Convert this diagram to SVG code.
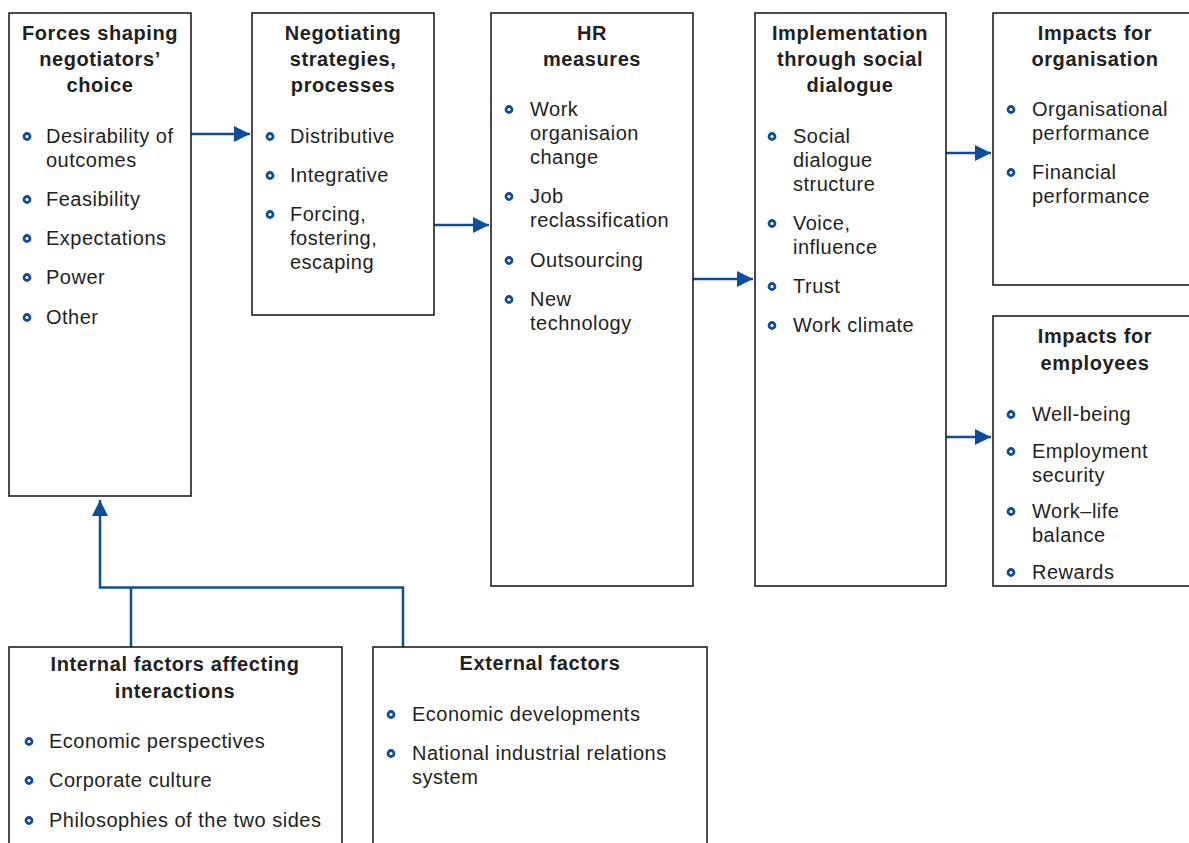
<svg xmlns="http://www.w3.org/2000/svg" width="1189" height="843" viewBox="0 0 1189 843">
<defs>
<style>
.box{fill:#fff;stroke:#231f20;stroke-width:1.6}
.t{font-family:"Liberation Sans",Arial,sans-serif;font-size:20px;letter-spacing:0.5px;fill:#231f20}
.h{font-weight:bold;text-anchor:middle;letter-spacing:0.6px}
.b{fill:#fff;stroke:#0d4d9f;stroke-width:2.8}
.c{fill:none;stroke:#0d4d9f;stroke-width:2.5}
</style>
<marker id="ah" markerUnits="userSpaceOnUse" markerWidth="17" markerHeight="17" refX="16" refY="8" orient="auto">
<path d="M0,0 L16,8 L0,16 z" fill="#0d4d9f"/>
</marker>
</defs>
<rect width="1189" height="843" fill="#fff"/>

<g id="connectors">
<line class="c" x1="191" y1="134" x2="250" y2="134" marker-end="url(#ah)"/>
<line class="c" x1="434" y1="225" x2="489" y2="225" marker-end="url(#ah)"/>
<line class="c" x1="693" y1="279" x2="753" y2="279" marker-end="url(#ah)"/>
<line class="c" x1="946" y1="153" x2="991" y2="153" marker-end="url(#ah)"/>
<line class="c" x1="946" y1="437" x2="991" y2="437" marker-end="url(#ah)"/>
<path class="c" d="M131,647 V587.5 M403,647 V587.5 H100 V500" marker-end="url(#ah)"/>
</g>

<g id="forces">
<rect class="box" x="9" y="13" width="182" height="483"/>
<text class="t h" x="100" y="40">Forces shaping</text>
<text class="t h" x="100" y="66">negotiators’</text>
<text class="t h" x="100" y="92">choice</text>
<circle class="b" cx="27" cy="136.5" r="3"/><text class="t" x="46" y="143">Desirability of</text>
<text class="t" x="46" y="167">outcomes</text>
<circle class="b" cx="27" cy="199.5" r="3"/><text class="t" x="46" y="206">Feasibility</text>
<circle class="b" cx="27" cy="238.5" r="3"/><text class="t" x="46" y="245">Expectations</text>
<circle class="b" cx="27" cy="277.5" r="3"/><text class="t" x="46" y="284">Power</text>
<circle class="b" cx="27" cy="317.5" r="3"/><text class="t" x="46" y="324">Other</text>
</g>

<g id="negotiating">
<rect class="box" x="252" y="13" width="182" height="302"/>
<text class="t h" x="343" y="40">Negotiating</text>
<text class="t h" x="343" y="66">strategies,</text>
<text class="t h" x="343" y="92">processes</text>
<circle class="b" cx="270" cy="136.5" r="3"/><text class="t" x="290" y="143">Distributive</text>
<circle class="b" cx="270" cy="175.5" r="3"/><text class="t" x="290" y="182">Integrative</text>
<circle class="b" cx="270" cy="214.5" r="3"/><text class="t" x="290" y="221">Forcing,</text>
<text class="t" x="290" y="245">fostering,</text>
<text class="t" x="290" y="269">escaping</text>
</g>

<g id="hr">
<rect class="box" x="491" y="13" width="202" height="573"/>
<text class="t h" x="592" y="40">HR</text>
<text class="t h" x="592" y="66">measures</text>
<circle class="b" cx="509" cy="109.5" r="3"/><text class="t" x="530" y="116">Work</text>
<text class="t" x="530" y="140">organisaion</text>
<text class="t" x="530" y="164">change</text>
<circle class="b" cx="509" cy="196.5" r="3"/><text class="t" x="530" y="203">Job</text>
<text class="t" x="530" y="227">reclassification</text>
<circle class="b" cx="509" cy="260.5" r="3"/><text class="t" x="530" y="267">Outsourcing</text>
<circle class="b" cx="509" cy="299.5" r="3"/><text class="t" x="530" y="306">New</text>
<text class="t" x="530" y="330">technology</text>
</g>

<g id="implementation">
<rect class="box" x="755" y="13" width="191" height="573"/>
<text class="t h" x="850" y="40">Implementation</text>
<text class="t h" x="850" y="66">through social</text>
<text class="t h" x="850" y="92">dialogue</text>
<circle class="b" cx="772" cy="136.5" r="3"/><text class="t" x="793" y="143">Social</text>
<text class="t" x="793" y="167">dialogue</text>
<text class="t" x="793" y="191">structure</text>
<circle class="b" cx="772" cy="223.5" r="3"/><text class="t" x="793" y="230">Voice,</text>
<text class="t" x="793" y="254">influence</text>
<circle class="b" cx="772" cy="286.5" r="3"/><text class="t" x="793" y="293">Trust</text>
<circle class="b" cx="772" cy="325.5" r="3"/><text class="t" x="793" y="332">Work climate</text>
</g>

<g id="impacts-organisation">
<rect class="box" x="993" y="13" width="205" height="272"/>
<text class="t h" x="1095" y="40">Impacts for</text>
<text class="t h" x="1095" y="66">organisation</text>
<circle class="b" cx="1011" cy="109.5" r="3"/><text class="t" x="1032" y="116">Organisational</text>
<text class="t" x="1032" y="140">performance</text>
<circle class="b" cx="1011" cy="172.5" r="3"/><text class="t" x="1032" y="179">Financial</text>
<text class="t" x="1032" y="203">performance</text>
</g>

<g id="impacts-employees">
<rect class="box" x="993" y="316" width="205" height="270"/>
<text class="t h" x="1095" y="343">Impacts for</text>
<text class="t h" x="1095" y="370">employees</text>
<circle class="b" cx="1011" cy="414.5" r="3"/><text class="t" x="1032" y="421">Well-being</text>
<circle class="b" cx="1011" cy="451.5" r="3"/><text class="t" x="1032" y="458">Employment</text>
<text class="t" x="1032" y="482">security</text>
<circle class="b" cx="1011" cy="511.5" r="3"/><text class="t" x="1032" y="518">Work–life</text>
<text class="t" x="1032" y="542">balance</text>
<circle class="b" cx="1011" cy="572.5" r="3"/><text class="t" x="1032" y="579">Rewards</text>
</g>

<g id="internal">
<rect class="box" x="9" y="647" width="333" height="210"/>
<text class="t h" x="175" y="671">Internal factors affecting</text>
<text class="t h" x="175" y="698">interactions</text>
<circle class="b" cx="29" cy="741.5" r="3"/><text class="t" x="49" y="748">Economic perspectives</text>
<circle class="b" cx="29" cy="780.5" r="3"/><text class="t" x="49" y="787">Corporate culture</text>
<circle class="b" cx="29" cy="820.5" r="3"/><text class="t" x="49" y="827">Philosophies of the two sides</text>
</g>

<g id="external">
<rect class="box" x="373" y="647" width="334" height="210"/>
<text class="t h" x="540" y="670">External factors</text>
<circle class="b" cx="391" cy="714.5" r="3"/><text class="t" x="412" y="721">Economic developments</text>
<circle class="b" cx="391" cy="753.5" r="3"/><text class="t" x="412" y="760">National industrial relations</text>
<text class="t" x="412" y="784">system</text>
</g>
</svg>
